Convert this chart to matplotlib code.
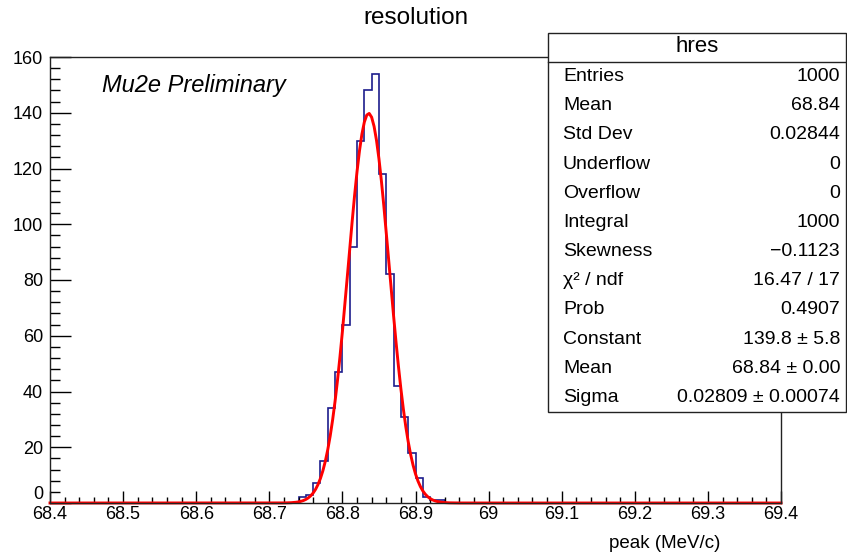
import numpy as np
import matplotlib
matplotlib.use("Agg")
import matplotlib.pyplot as plt
from matplotlib.patches import Rectangle
from matplotlib.ticker import MultipleLocator, FuncFormatter

plt.rcParams['font.family'] = ['Liberation Sans', 'DejaVu Sans']

# histogram: 100 bins of 0.01 from 68.4 to 69.4, non-empty bins start at 68.74
x_lo, x_hi, n_bins = 68.4, 69.4, 100
first_bin = 68.74
counts_nonzero = [2, 3, 7, 15, 34, 47, 64, 92, 130, 148, 154, 118, 82, 42, 31, 18, 9, 2, 1, 1]

# gaussian fit result
fit_const = 139.8
fit_mean = 68.836
fit_sigma = 0.02809

stat_labels = ["Entries", "Mean", "Std Dev", "Underflow", "Overflow", "Integral",
               "Skewness", "χ² / ndf", "Prob", "Constant", "Mean", "Sigma"]
stat_values = ["1000", "68.84", "0.02844", "0", "0", "1000",
               "−0.1123", "16.47 / 17", "0.4907", "139.8 ± 5.8", "68.84 ± 0.00",
               "0.02809 ± 0.00074"]

edges = np.linspace(x_lo, x_hi, n_bins + 1)
counts = np.zeros(n_bins)
i0 = int(round((first_bin - x_lo) / 0.01))
counts[i0:i0 + len(counts_nonzero)] = counts_nonzero

W, H = 847, 554
fig = plt.figure(figsize=(W / 100, H / 100), dpi=100)
ax = fig.add_axes([50 / W, 1 - 503 / H, 731 / W, 446 / H])

ax.stairs(counts, edges, color='#1c1c8c', linewidth=1.2)
xf = np.linspace(x_lo, x_hi, 301)
yf = fit_const * np.exp(-0.5 * ((xf - fit_mean) / fit_sigma) ** 2)
ax.plot(xf, yf, color='#ff0000', linewidth=2.1, clip_on=False)

ax.set_xlim(x_lo, x_hi)
ax.set_ylim(0, 160)

ax.xaxis.set_major_locator(MultipleLocator(0.1))
ax.xaxis.set_minor_locator(MultipleLocator(0.02))
ax.yaxis.set_major_locator(MultipleLocator(20))
ax.yaxis.set_minor_locator(MultipleLocator(4))
ax.xaxis.set_major_formatter(FuncFormatter(lambda v, p: f"{v:.1f}".rstrip('0').rstrip('.')))
# "0" is drawn separately, sitting just above the x axis like ROOT does
ax.yaxis.set_major_formatter(FuncFormatter(lambda v, p: "" if abs(v) < 1e-9 else f"{v:.0f}"))
ax.annotate("0", xy=(0, 0), xycoords=('axes fraction', 'data'), xytext=(-5, 0),
            textcoords='offset points', ha='right', va='bottom', fontsize=13)

ax.tick_params(axis='x', which='major', direction='in', length=9, width=1, labelsize=13, pad=2)
ax.tick_params(axis='x', which='minor', direction='in', length=4.5, width=1)
ax.tick_params(axis='y', which='major', direction='in', length=15, width=1, labelsize=13, pad=5)
ax.tick_params(axis='y', which='minor', direction='in', length=7.5, width=1)
for s in ax.spines.values():
    s.set_linewidth(1.0)
    s.set_color('#222222')

fig.text(416 / W, 1 - 24 / H, "resolution", ha='center', va='baseline', fontsize=17.5)
fig.text(102 / W, 1 - 92 / H, "Mu2e Preliminary", ha='left', va='baseline',
         fontsize=17, style='italic')
fig.text(720 / W, 1 - 548 / H, "peak (MeV/c)", ha='right', va='baseline', fontsize=13.5)

# stats box
bx0, bx1, by0, by1, hy = 548, 846, 33, 412, 62
box = Rectangle((bx0 / W, 1 - by1 / H), (bx1 - bx0) / W, (by1 - by0) / H,
                transform=fig.transFigure, facecolor='white', edgecolor='#222222',
                linewidth=1.0, zorder=5)
fig.add_artist(box)
fig.add_artist(plt.Line2D([bx0 / W, bx1 / W], [1 - hy / H, 1 - hy / H],
                          transform=fig.transFigure, color='#222222', linewidth=1.0, zorder=6))
fig.text((bx0 + bx1) / 2 / W, 1 - 47 / H, "hres", ha='center', va='center',
         fontsize=16, zorder=7)
row_h = (by1 - hy) / len(stat_labels)
for i, (lab, val) in enumerate(zip(stat_labels, stat_values)):
    yc = 1 - (hy + row_h * (i + 0.5)) / H
    fig.text(563 / W, yc, lab, ha='left', va='center', fontsize=14, zorder=7)
    fig.text(840 / W, yc, val, ha='right', va='center', fontsize=14, zorder=7)

fig.savefig("out.png", dpi=100)
